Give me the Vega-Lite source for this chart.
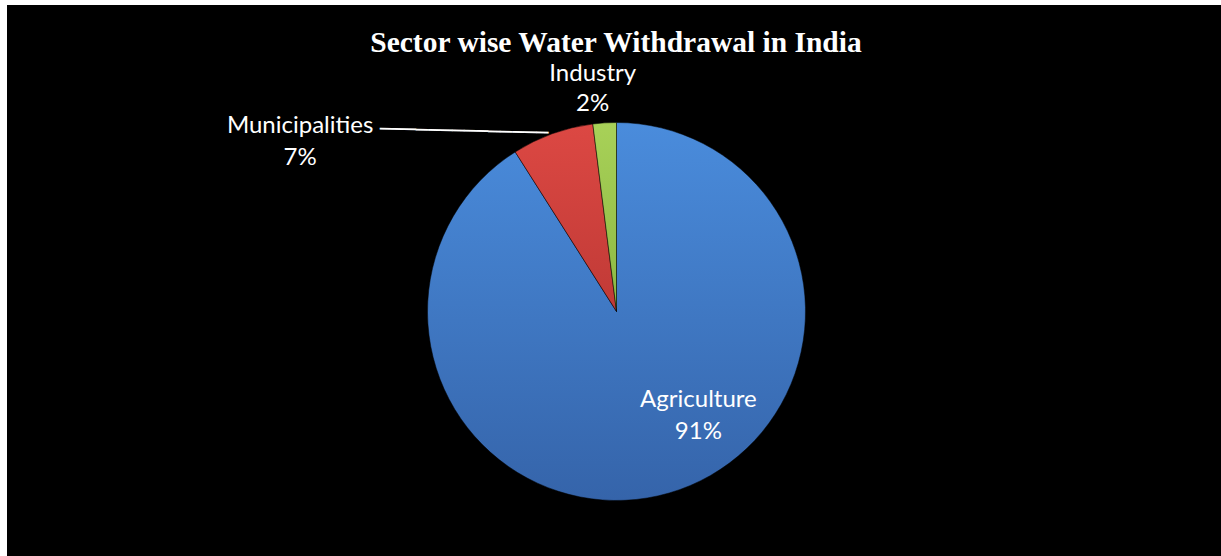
{
  "$schema": "https://vega.github.io/schema/vega-lite/v6.json",
  "autosize": {"type": "fit", "contains": "padding"},
  "width": 1221,
  "height": 556,
  "padding": {"left": 7, "top": 5, "right": 0, "bottom": 0},
  "background": "white",
  "view": {"fill": "black", "stroke": null},
  "title": {
    "text": "Sector wise Water Withdrawal in India",
    "font": "Liberation Serif",
    "fontSize": 29.5,
    "fontWeight": "bold",
    "color": "white",
    "anchor": "middle",
    "frame": "group",
    "baseline": "alphabetic",
    "offset": 0,
    "dy": 76,
    "dx": 2
  },
  "data": {
    "values": [
      {"sector": "Agriculture", "value": 91, "ord": 1, "label": ["Agriculture", "91%"]},
      {"sector": "Municipalities", "value": 7, "ord": 2, "label": ["Municipalities", "7%"]},
      {"sector": "Industry", "value": 2, "ord": 3, "label": ["Industry", "2%"]}
    ]
  },
  "layer": [
    {
      "mark": {"type": "arc", "outerRadius": 189, "x": {"expr": "width/2+2.5"}, "y": {"expr": "height/2+31"}, "stroke": "#000", "strokeOpacity": 0.5, "strokeWidth": 1},
      "encoding": {
        "theta": {"field": "value", "type": "quantitative", "stack": true},
        "order": {"field": "ord", "type": "quantitative"},
        "detail": {"field": "sector", "type": "nominal"},
        "fill": {
          "condition": [
            {"test": "datum.sector === 'Agriculture'", "value": {"gradient": "linear", "x1": 0, "y1": 0, "x2": 0, "y2": 1, "stops": [{"offset": 0, "color": "#4a8cdc"}, {"offset": 1, "color": "#3564aa"}]}},
            {"test": "datum.sector === 'Municipalities'", "value": {"gradient": "linear", "x1": 0, "y1": 0, "x2": 0, "y2": 1, "stops": [{"offset": 0, "color": "#dc4843"}, {"offset": 1, "color": "#c03a36"}]}}
          ],
          "value": {"gradient": "linear", "x1": 0, "y1": 0, "x2": 0, "y2": 1, "stops": [{"offset": 0, "color": "#a8d158"}, {"offset": 1, "color": "#8cb843"}]}
        }
      }
    },
    {
      "mark": {"type": "text", "radius": 100, "x": {"expr": "width/2+2.5"}, "y": {"expr": "height/2+31"}, "dx": 54, "dy": -7.5, "font": "Lato", "fontSize": 24, "color": "white", "align": "center", "baseline": "middle", "lineHeight": 32},
      "encoding": {
        "theta": {"field": "value", "type": "quantitative", "stack": true},
        "order": {"field": "ord", "type": "quantitative"},
        "detail": {"field": "sector", "type": "nominal"},
        "text": {"condition": {"test": "datum.sector === 'Agriculture'", "field": "label", "type": "nominal"}, "value": ""}
      }
    },
    {
      "mark": {"type": "text", "radius": 190, "x": {"expr": "width/2+2.5"}, "y": {"expr": "height/2+31"}, "dx": -252, "dy": -7, "font": "Lato", "fontSize": 24, "color": "white", "align": "center", "baseline": "middle", "lineHeight": 32},
      "encoding": {
        "theta": {"field": "value", "type": "quantitative", "stack": true},
        "order": {"field": "ord", "type": "quantitative"},
        "detail": {"field": "sector", "type": "nominal"},
        "text": {"condition": {"test": "datum.sector === 'Municipalities'", "field": "label", "type": "nominal"}, "value": ""}
      }
    },
    {
      "mark": {"type": "text", "radius": 190, "x": {"expr": "width/2+2.5"}, "y": {"expr": "height/2+31"}, "dx": -88, "dy": 1, "angle": 1.4, "font": "DejaVu Sans", "fontSize": 20, "color": "white", "align": "center", "baseline": "middle"},
      "encoding": {
        "theta": {"field": "value", "type": "quantitative", "stack": true},
        "order": {"field": "ord", "type": "quantitative"},
        "detail": {"field": "sector", "type": "nominal"},
        "text": {"condition": {"test": "datum.sector === 'Municipalities'", "value": "──────────────"}, "value": ""}
      }
    },
    {
      "mark": {"type": "text", "radius": 220, "x": {"expr": "width/2+2.5"}, "y": {"expr": "height/2+31"}, "dx": -10, "dy": -18, "font": "Lato", "fontSize": 24, "color": "white", "align": "center", "baseline": "middle", "lineHeight": 30},
      "encoding": {
        "theta": {"field": "value", "type": "quantitative", "stack": true},
        "order": {"field": "ord", "type": "quantitative"},
        "detail": {"field": "sector", "type": "nominal"},
        "text": {"condition": {"test": "datum.sector === 'Industry'", "field": "label", "type": "nominal"}, "value": ""}
      }
    }
  ]
}
